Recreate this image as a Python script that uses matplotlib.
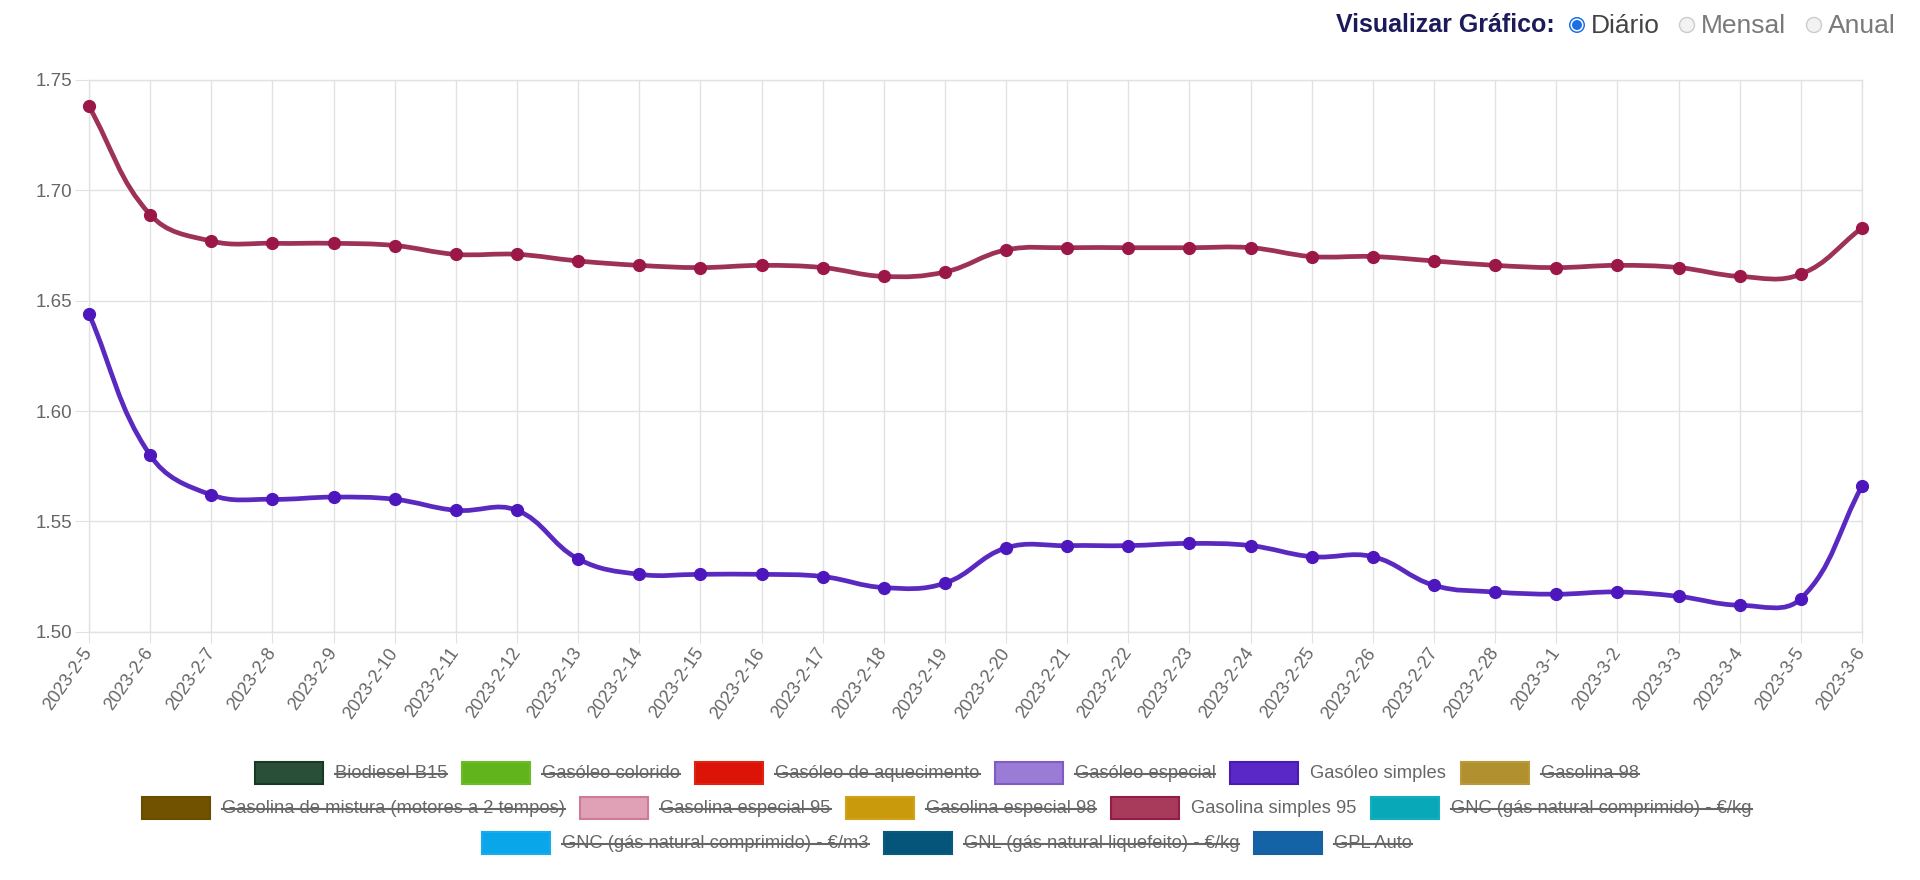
import matplotlib
matplotlib.use('Agg')
import matplotlib.pyplot as plt
from matplotlib.path import Path
from matplotlib.patches import PathPatch, Rectangle, Circle
from matplotlib.lines import Line2D
import numpy as np

plt.rcParams['font.family'] = ['Liberation Sans', 'DejaVu Sans']

W, H = 1920, 880

dates = ['2023-2-5', '2023-2-6', '2023-2-7', '2023-2-8', '2023-2-9', '2023-2-10',
         '2023-2-11', '2023-2-12', '2023-2-13', '2023-2-14', '2023-2-15', '2023-2-16',
         '2023-2-17', '2023-2-18', '2023-2-19', '2023-2-20', '2023-2-21', '2023-2-22',
         '2023-2-23', '2023-2-24', '2023-2-25', '2023-2-26', '2023-2-27', '2023-2-28',
         '2023-3-1', '2023-3-2', '2023-3-3', '2023-3-4', '2023-3-5', '2023-3-6']

gasolina_simples_95 = [1.738, 1.689, 1.677, 1.676, 1.676, 1.675, 1.671, 1.671, 1.668, 1.666,
                       1.665, 1.666, 1.665, 1.661, 1.663, 1.673, 1.674, 1.674, 1.674, 1.674,
                       1.670, 1.670, 1.668, 1.666, 1.665, 1.666, 1.665, 1.661, 1.662, 1.683]

gasoleo_simples = [1.644, 1.580, 1.562, 1.560, 1.561, 1.560, 1.555, 1.555, 1.533, 1.526,
                   1.526, 1.526, 1.525, 1.520, 1.522, 1.538, 1.539, 1.539, 1.540, 1.539,
                   1.534, 1.534, 1.521, 1.518, 1.517, 1.518, 1.516, 1.512, 1.515, 1.566]

y_ticks = [1.50, 1.55, 1.60, 1.65, 1.70, 1.75]

legend_rows = [
    ['Biodiesel B15', 'Gasóleo colorido', 'Gasóleo de aquecimento', 'Gasóleo especial',
     'Gasóleo simples', 'Gasolina 98'],
    ['Gasolina de mistura (motores a 2 tempos)', 'Gasolina especial 95', 'Gasolina especial 98',
     'Gasolina simples 95', 'GNC (gás natural comprimido) - €/kg'],
    ['GNC (gás natural comprimido) - €/m3', 'GNL (gás natural liquefeito) - €/kg', 'GPL Auto'],
]
# (fill, border)
legend_colors = {
    'Biodiesel B15': ('#2a4f38', '#163a23'),
    'Gasóleo colorido': ('#62b41c', '#6cbb2a'),
    'Gasóleo de aquecimento': ('#dc1408', '#e02414'),
    'Gasóleo especial': ('#9a7bd6', '#7f5bc8'),
    'Gasóleo simples': ('#5a28c6', '#4a1ab4'),
    'Gasolina 98': ('#b0902f', '#b89a3a'),
    'Gasolina de mistura (motores a 2 tempos)': ('#705200', '#6a4e00'),
    'Gasolina especial 95': ('#e0a0b6', '#cf7b98'),
    'Gasolina especial 98': ('#c99a0c', '#cfa21a'),
    'Gasolina simples 95': ('#a83a5c', '#921e48'),
    'GNC (gás natural comprimido) - €/kg': ('#08a8b8', '#14aebd'),
    'GNC (gás natural comprimido) - €/m3': ('#0aa6ea', '#18acec'),
    'GNL (gás natural liquefeito) - €/kg': ('#045579', '#0a5a7e'),
    'GPL Auto': ('#1563a7', '#1a5ea0'),
}
visible = ['Gasóleo simples', 'Gasolina simples 95']

series = [
    (gasolina_simples_95, '#9d3157', '#9a1747'),
    (gasoleo_simples, '#5a2ac0', '#4d17bd'),
]


def px(x, y):
    # pixel coords (origin top-left) -> figure fraction
    return x / W, 1 - y / H


def spline_path(ax, xs, ys, t=0.4):
    # bezier control points like chart.js (tension 0.4)
    pts = ax.transData.transform(np.column_stack([xs, ys]))
    n = len(pts)
    cin = pts.copy()
    cout = pts.copy()
    y0, y1 = ax.transData.transform([(0, ax.get_ylim()[0]), (0, ax.get_ylim()[1])])[:, 1]
    for i in range(n):
        prev = pts[max(i - 1, 0)]
        cur = pts[i]
        nxt = pts[min(i + 1, n - 1)]
        d01 = np.hypot(*(cur - prev))
        d12 = np.hypot(*(nxt - cur))
        tot = d01 + d12
        s01 = d01 / tot if tot else 0
        s12 = d12 / tot if tot else 0
        cin[i] = cur - t * s01 * (nxt - prev)
        cout[i] = cur + t * s12 * (nxt - prev)
    cin[:, 1] = np.clip(cin[:, 1], y0, y1)
    cout[:, 1] = np.clip(cout[:, 1], y0, y1)
    verts = [pts[0]]
    codes = [Path.MOVETO]
    for i in range(n - 1):
        verts += [cout[i], cin[i + 1], pts[i + 1]]
        codes += [Path.CURVE4] * 3
    verts = ax.transData.inverted().transform(np.array(verts))
    return Path(verts, codes)


fig = plt.figure(figsize=(W / 100, H / 100), dpi=100)
left, right, top, bottom = 89, 1862, 80, 631.7
ax = fig.add_axes([left / W, 1 - bottom / H, (right - left) / W, (bottom - top) / H])

x = np.arange(len(dates))
ax.set_xlim(0, len(dates) - 1)
ax.set_ylim(y_ticks[0], y_ticks[-1])

for vals, lc, mc in series:
    ax.add_patch(PathPatch(spline_path(ax, x, vals), fill=False, edgecolor=lc, lw=3.4,
                           capstyle='round', joinstyle='round', clip_on=False, zorder=3))
    ax.plot(x, vals, ls='none', marker='o', ms=8.5, color=mc, clip_on=False, zorder=4)

grid_c = '#e2e2e2'
ax.set_xticks(x)
ax.set_xticklabels(dates, rotation=55, ha='right', va='center', rotation_mode='anchor')
ax.set_yticks(y_ticks)
ax.set_yticklabels(['%.2f' % v for v in y_ticks])
ax.tick_params(axis='x', length=8, color=grid_c, labelcolor='#666666', labelsize=13, pad=5)
ax.tick_params(axis='y', length=10, color=grid_c, labelcolor='#666666', labelsize=13.5, pad=2)
ax.grid(True, color=grid_c, lw=1)
ax.set_axisbelow(True)
for s in ax.spines.values():
    s.set_color(grid_c)
    s.set_linewidth(1)

# legend, centered rows like chart.js
renderer = fig.canvas.get_renderer()
box_w, box_h, gap_txt, gap_item = 68, 22, 12, 15
row_y = [773, 808, 843]
center_x = 947
for row, yc in zip(legend_rows, row_y):
    texts = []
    widths = []
    for name in row:
        t = fig.text(0, 0, name, fontsize=13.2, color='#666666', va='center', ha='left')
        widths.append(t.get_window_extent(renderer).width)
        texts.append(t)
    total = sum(box_w + gap_txt + w for w in widths) + gap_item * (len(row) - 1)
    xc = center_x - total / 2
    for name, t, w in zip(row, texts, widths):
        fc, ec = legend_colors[name]
        bx, by = px(xc, yc + box_h / 2)
        fig.add_artist(Rectangle((bx, by), box_w / W, box_h / H, transform=fig.transFigure,
                                 facecolor=fc, edgecolor=ec, lw=1.5))
        tx = xc + box_w + gap_txt
        t.set_position(px(tx, yc))
        if name not in visible:
            lx0, ly = px(tx, yc + 1)
            lx1, _ = px(tx + w, yc + 1)
            fig.add_artist(Line2D([lx0, lx1], [ly, ly], transform=fig.transFigure,
                                  color='#666666', lw=1.5))
        xc += box_w + gap_txt + w + gap_item

# chart type selector at top right
ty = 25
fig.text(*px(1555, ty), 'Visualizar Gráfico:', fontsize=18, fontweight='bold',
         color='#1c1a5a', ha='right', va='center')
options = [('Diário', 1577, True), ('Mensal', 1687, False), ('Anual', 1814, False)]
for label, cx, sel in options:
    c = (cx / 100, (H - ty) / 100)
    if sel:
        fig.add_artist(Circle(c, 0.08, transform=fig.dpi_scale_trans, facecolor='#1a6fe6', lw=0))
        fig.add_artist(Circle(c, 0.065, transform=fig.dpi_scale_trans, facecolor='white', lw=0))
        fig.add_artist(Circle(c, 0.05, transform=fig.dpi_scale_trans, facecolor='#1a6fe6', lw=0))
        col = '#444444'
    else:
        fig.add_artist(Circle(c, 0.075, transform=fig.dpi_scale_trans, facecolor='#f2f2f2',
                              edgecolor='#cccccc', lw=1))
        col = '#7a7a7a'
    fig.text(*px(cx + 14, ty + 1), label, fontsize=19, color=col, ha='left', va='center')

fig.savefig('out.png', dpi=100)
